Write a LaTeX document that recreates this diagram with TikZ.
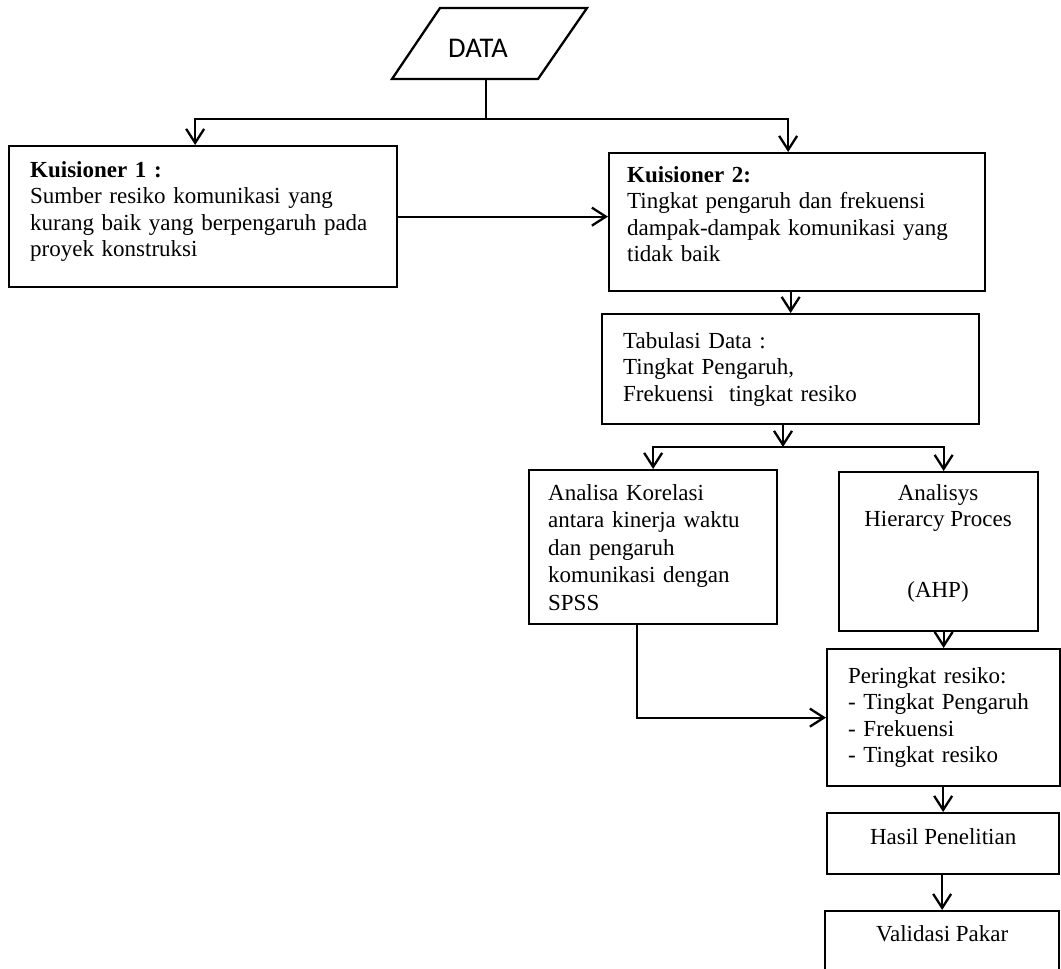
\documentclass[tikz,border=0pt]{standalone}
\usepackage{fontspec}
\setmainfont{Liberation Serif}
\newfontfamily\datafont{Carlito}
\usetikzlibrary{arrows.meta}
\begin{document}
\begin{tikzpicture}[x=1pt,y=-1pt,
  box/.style={draw, line width=2.3pt, inner sep=0pt, anchor=north west,
    font=\fontsize{23}{26.5}\selectfont},
  lbox/.style={box, align=left},
  txt/.style={inner sep=0pt, font=\fontsize{23}{26.5}\selectfont},
  line/.style={line width=2.3pt},
  conn/.style={line width=2.3pt, -{Straight Barb[length=14pt,width=18pt]}}]
\clip (0,0) rectangle (1061,969);
\useasboundingbox (0,0) rectangle (1061,969);

% DATA parallelogram
\draw[line] (392,79) -- (538,79) -- (587,8) -- (440,8) -- cycle;
\node[font=\datafont\fontsize{28.5}{32}\selectfont, inner sep=0pt] (data) at (478,48) {DATA};
\coordinate (dstem) at (486,79);
\coordinate (j1) at (486,119);

% boxes
\node[box, minimum width=388pt, minimum height=141pt] (k1) at (8,145) {};
\node[txt, anchor=north west, align=left, text width=346pt] (k1t) at (30,161)
  {\textbf{Kuisioner 1 :}\\Sumber resiko komunikasi yang\\kurang baik yang berpengaruh pada\\proyek konstruksi};
\node[box, minimum width=376pt, minimum height=138pt] (k2) at (608,152) {};
\node[txt, anchor=north west, align=left, text width=336pt] (k2t) at (627,166)
  {\textbf{Kuisioner 2:}\\Tingkat pengaruh dan frekuensi\\dampak-dampak komunikasi yang\\tidak baik};
\node[lbox, minimum width=377pt, minimum height=110pt, text width=335pt] (tab) at (601,313)
  {Tabulasi Data :\\Tingkat Pengaruh,\\Frekuensi\ \ tingkat resiko};
\node[lbox, minimum width=248pt, minimum height=154pt, text width=210pt,
  font=\fontsize{23}{27.5}\selectfont] (anc) at (528,469)
  {Analisa Korelasi\\antara kinerja waktu\\dan pengaruh\\komunikasi dengan\\SPSS};
\node[box, minimum width=199pt, minimum height=159pt] (ahp) at (838,471) {};
\node[txt, anchor=north, align=center] (ahpt) at (938,484)
  {Analisys\\Hierarcy Proces\\[44pt](AHP)};
\node[lbox, minimum width=233pt, minimum height=137pt, text width=191pt] (per) at (826,648)
  {Peringkat resiko:\\- Tingkat Pengaruh\\- Frekuensi\\- Tingkat resiko};
\node[box, minimum width=232pt, minimum height=61pt, text height=16pt, text depth=14pt] (hasil) at (826,812)
  {Hasil Penelitian};
\node[box, minimum width=234pt, minimum height=62pt, text height=16pt, text depth=17pt] (val) at (824,910)
  {Validasi Pakar};

% connectors
\draw[line] (dstem) -- (j1);
\draw[conn] (j1) -| ([xshift=-8pt]k1.north);
\draw[conn] (j1) -| ([xshift=-9pt]k2.north);
\draw[conn] (k1.east) -- (k1.east -| k2.west);
\draw[conn] (k2.south -| tab.north) -- (tab.north);
\coordinate (j2) at (783,447);
\draw[conn] (tab.south -| j2) -- (j2);
\draw[conn] (j2) -| (anc.north);
\draw[conn] (j2) -| ([xshift=5pt]ahp.north);
\draw[conn] (ahp.south -| per.north) -- (per.north);
\draw[conn] ([xshift=-16pt]anc.south) |- (per.west);
\draw[conn] (per.south -| hasil.north) -- (hasil.north);
\draw[conn] (hasil.south -| val.north) -- (val.north);
\end{tikzpicture}
\end{document}
